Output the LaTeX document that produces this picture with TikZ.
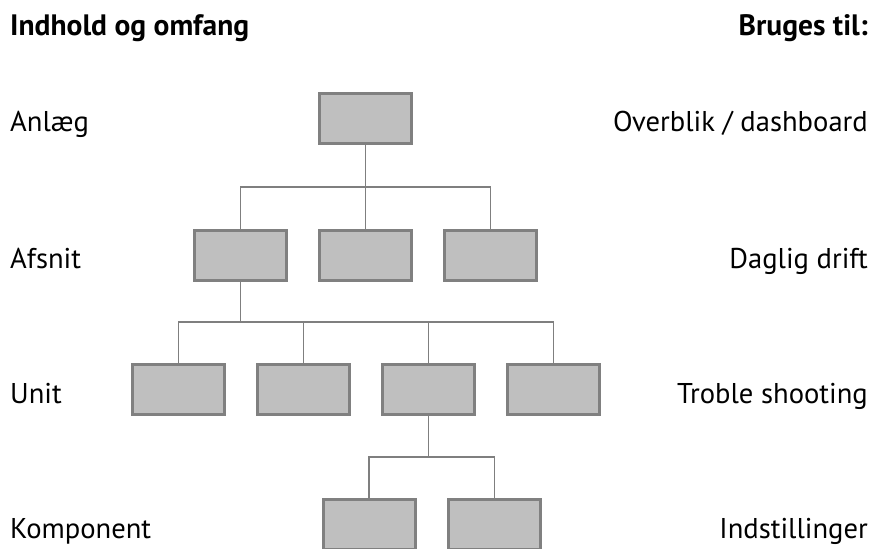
\documentclass[tikz,border=0pt]{standalone}
\usepackage{fontspec}
\setmainfont{PT Sans}
\definecolor{boxfill}{HTML}{BFBFBF}
\definecolor{boxline}{HTML}{808080}
\definecolor{conn}{HTML}{7F7F7F}
\begin{document}
\begin{tikzpicture}[x=1pt,y=-1pt,
  unitbox/.style={draw=boxline,fill=boxfill,line width=3pt,minimum width=92pt,minimum height=50pt,inner sep=0pt},
  conline/.style={draw=conn,line width=1.6pt},
  lbl/.style={font=\fontsize{28.6}{32}\selectfont,inner sep=0pt},
  hdr/.style={font=\fontsize{29.5}{33}\selectfont\bfseries,inner sep=0pt}]
\useasboundingbox (0,0) rectangle (874,548);
% headers
\node[hdr,anchor=base west] (h1) at (10,36) {Indhold og omfang};
\node[hdr,anchor=base east] (h2) at (868,36) {Bruges til:};
% boxes
\node[unitbox] (a) at (365.5,118.5) {};
\node[unitbox] (b1) at (240.5,255) {};
\node[unitbox] (b2) at (365.5,255) {};
\node[unitbox] (b3) at (490.5,255) {};
\node[unitbox] (c1) at (178.5,389.5) {};
\node[unitbox] (c2) at (303.5,389.5) {};
\node[unitbox] (c3) at (428.5,389.5) {};
\node[unitbox] (c4) at (553.5,389.5) {};
\node[unitbox] (d1) at (369,524.5) {};
\node[unitbox] (d2) at (494.5,524.5) {};
% connectors
\draw[conline] (a.south) -- (b2.north);
\draw[conline] (b1.north) |- (a.south |- 0,187) -| (b3.north);
\draw[conline] (b1.south) -- (b1.south |- 0,322);
\draw[conline] (c1.north) |- (b1.south |- 0,322) -| (c4.north);
\draw[conline] (c2.north) -- (c2.north |- 0,322);
\draw[conline] (c3.north) -- (c3.north |- 0,322);
\draw[conline] (c3.south) -- (c3.south |- 0,457);
\draw[conline] (d1.north) |- (c3.south |- 0,457) -| (d2.north);
% left labels
\node[lbl,anchor=base west] (l1) at (10,132) {Anlæg};
\node[lbl,anchor=base west] (l2) at (10,268) {Afsnit};
\node[lbl,anchor=base west] (l3) at (10,403) {Unit};
\node[lbl,anchor=base west] (l4) at (10,538) {Komponent};
% right labels
\node[lbl,anchor=base east] (r1) at (868,132) {Overblik / dashboard};
\node[lbl,anchor=base east] (r2) at (868,268) {Daglig drift};
\node[lbl,anchor=base east] (r3) at (868,403) {Troble shooting};
\node[lbl,anchor=base east] (r4) at (868,538) {Indstillinger};
\end{tikzpicture}
\end{document}
